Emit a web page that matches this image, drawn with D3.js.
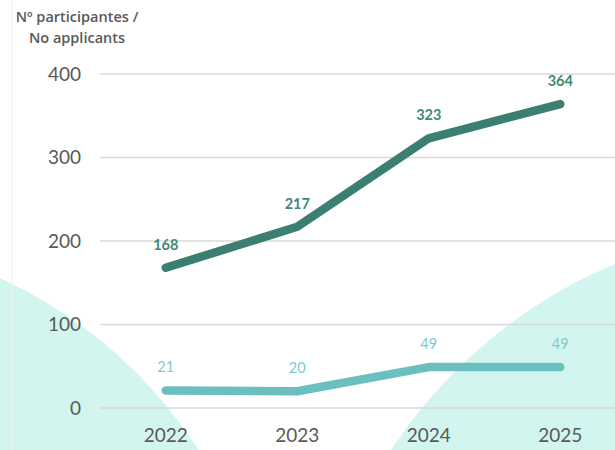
<!DOCTYPE html>
<html><head><meta charset="utf-8">
<script src="https://cdn.jsdelivr.net/npm/d3@7"></script>
<style>body{margin:0;background:#fff;overflow:hidden}svg{display:block}</style>
</head><body>
<svg id="c" width="615" height="450"></svg>
<script>
const years = ["2022","2023","2024","2025"];
const participants = [168, 217, 323, 364];
const applicants = [21, 20, 49, 49];
const yTicks = [0, 100, 200, 300, 400];
const titleLines = ["Nº participantes /", "No applicants"];

const svg = d3.select("#c");
const font = "Lato, 'Open Sans', sans-serif";

const x = d3.scaleBand().domain(years).range([100, 626]);
const y = d3.scaleLinear().domain([0, 400]).range([408, 74]);
const cx = d => x(d) + x.bandwidth() / 2;

// background decorative circles
svg.append("circle").attr("cx", -188).attr("cy", 696).attr("r", 458).attr("fill", "#d3f5f0");
svg.append("circle").attr("cx", 805).attr("cy", 720).attr("r", 494).attr("fill", "#d3f5f0");
svg.append("line").attr("x1", 12).attr("x2", 12).attr("y1", 0).attr("y2", 450)
  .attr("stroke", "#eeeeee").attr("stroke-width", 1);

// gridlines
svg.append("g").selectAll("line").data(yTicks).join("line")
  .attr("x1", 100).attr("x2", 615)
  .attr("y1", d => y(d)).attr("y2", d => y(d))
  .attr("stroke", "#d9d9d9").attr("stroke-width", 1.5);

// y axis labels
const yAxis = d3.axisLeft(y).tickValues(yTicks).tickSize(0).tickPadding(0);
const gy = svg.append("g").attr("transform", "translate(81,0)").call(yAxis);
gy.select(".domain").remove();
gy.selectAll("text").attr("font-family", font).attr("font-size", 19).attr("fill", "#595959");

// x axis labels
const xAxis = d3.axisBottom(x).tickSize(0).tickPadding(0);
const gx = svg.append("g").attr("transform", "translate(0,428)").call(xAxis);
gx.select(".domain").remove();
gx.selectAll("text").attr("font-family", font).attr("font-size", 19).attr("fill", "#595959");

// title
svg.append("text").attr("font-family", "'Open Sans', sans-serif").attr("font-size", 14.5).attr("font-weight", 600)
  .attr("fill", "#595959").attr("text-anchor", "middle")
  .selectAll("tspan").data(titleLines).join("tspan")
  .attr("x", 77).attr("y", (d, i) => 22 + i * 21).text(d => d);

const line = d3.line().x((d, i) => cx(years[i])).y(d => y(d));

function series(vals, color, labelColor, weight) {
  svg.append("path").datum(vals).attr("d", line)
    .attr("fill", "none").attr("stroke", color).attr("stroke-width", 8.5)
    .attr("stroke-linecap", "round").attr("stroke-linejoin", "round");
  svg.append("g").selectAll("text").data(vals).join("text")
    .attr("x", (d, i) => cx(years[i])).attr("y", d => y(d) - 18)
    .attr("text-anchor", "middle").attr("font-family", font).attr("font-size", 14.5)
    .attr("font-weight", weight).attr("fill", labelColor).text(d => d);
}
series(participants, "#3a7f71", "#3d8a79", 700);
series(applicants, "#6bbfbf", "#7fcaca", 400);
</script>
</body></html>
